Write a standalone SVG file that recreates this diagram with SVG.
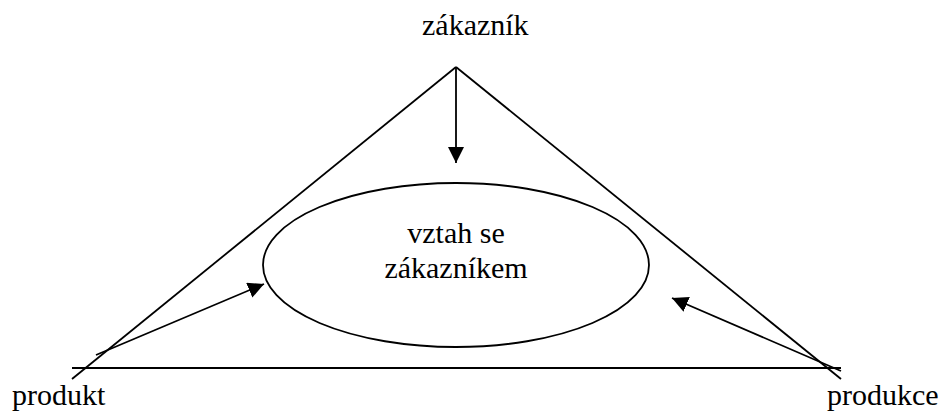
<svg xmlns="http://www.w3.org/2000/svg" width="942" height="412" viewBox="0 0 942 412">
<style>
.t{font-family:'Liberation Serif','Tinos','DejaVu Serif','Times New Roman',serif;font-size:30px;fill:#000}
.l{stroke:#000;stroke-width:1.8;fill:none}
</style>
<defs>
<marker id="ah" markerUnits="userSpaceOnUse" markerWidth="16" markerHeight="16" refX="16" refY="8" orient="auto" viewBox="0 0 16 16">
<path d="M0,0 L16,8 L0,16 z" fill="#000"/>
</marker>
</defs>
<rect width="942" height="412" fill="#fff"/>
<g id="connectors">
<line class="l" x1="456" y1="67" x2="72" y2="379"/>
<line class="l" x1="456" y1="67" x2="841" y2="379"/>
<line class="l" x1="72" y1="368" x2="841" y2="368"/>
<line class="l" x1="456" y1="67" x2="456" y2="163" marker-end="url(#ah)"/>
<line class="l" x1="96" y1="355" x2="264" y2="284" marker-end="url(#ah)"/>
<line class="l" x1="841" y1="371" x2="672" y2="298" marker-end="url(#ah)"/>
</g>
<g id="zakaznik"><text class="t" font-family="Liberation Serif" x="422" y="35">zákazník</text></g>
<g id="vztah">
<ellipse class="l" cx="456" cy="265" rx="193" ry="82"/>
<text class="t" x="456" y="243" text-anchor="middle">vztah se</text>
<text class="t" x="456" y="278" text-anchor="middle">zákazníkem</text>
</g>
<g id="produkt"><text class="t" x="12" y="405">produkt</text></g>
<g id="produkce"><text class="t" x="827" y="405">produkce</text></g>
</svg>
